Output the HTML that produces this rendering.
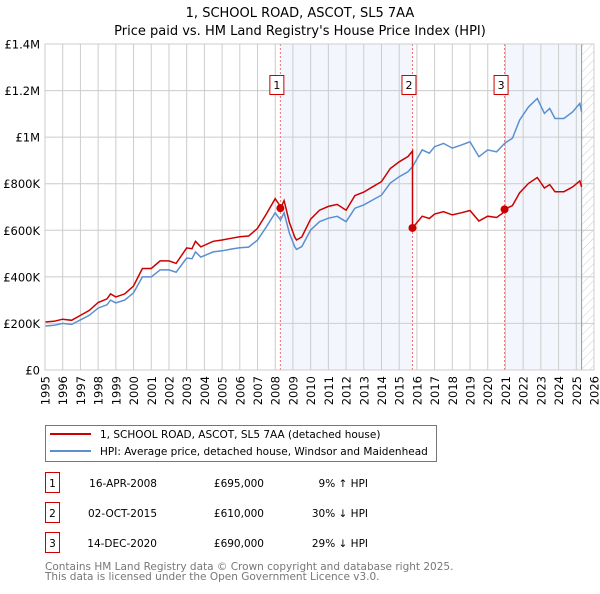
<!DOCTYPE html>
<html><head><meta charset="utf-8"><style>
body{margin:0;background:#fff;font-family:"DejaVu Sans","Liberation Sans",sans-serif;}
svg text{font-family:"DejaVu Sans","Liberation Sans",sans-serif;}
</style></head><body>
<svg id="chart" width="600" height="590" viewBox="0 0 600 590" xmlns="http://www.w3.org/2000/svg">
<defs><pattern id="hatch" width="6" height="6" patternUnits="userSpaceOnUse" patternTransform="rotate(45)"><line x1="0" y1="0" x2="0" y2="6" stroke="#ccc" stroke-width="1"/></pattern></defs>
<text x="300" y="17" text-anchor="middle" font-size="13">1, SCHOOL ROAD, ASCOT, SL5 7AA</text>
<text x="300" y="35" text-anchor="middle" font-size="13">Price paid vs. HM Land Registry's House Price Index (HPI)</text>
<g id="plot"></g>
<g>
<rect x="45.5" y="425.5" width="391" height="36" fill="#fff" stroke="#777"/>
<line x1="50" y1="434" x2="91" y2="434" stroke="#cc0000" stroke-width="2"/>
<text x="100" y="438" font-size="10.5">1, SCHOOL ROAD, ASCOT, SL5 7AA (detached house)</text>
<line x1="50" y1="451" x2="91" y2="451" stroke="#5b8fd0" stroke-width="2"/>
<text x="100" y="455" font-size="10.5">HPI: Average price, detached house, Windsor and Maidenhead</text>
</g>
<g id="table" font-size="10.5"></g>
<text x="45" y="570" font-size="10.5" fill="#777">Contains HM Land Registry data © Crown copyright and database right 2025.</text>
<text x="45" y="580" font-size="10.5" fill="#777">This data is licensed under the Open Government Licence v3.0.</text>
</svg>
<script>
const hpiYears=[1995,1995.5,1996,1996.5,1997,1997.5,1998,1998.5,1998.7,1999,1999.5,2000,2000.5,2001,2001.5,2002,2002.4,2003,2003.3,2003.5,2003.8,2004.5,2005,2005.5,2006,2006.5,2007,2007.5,2008,2008.3,2008.5,2008.8,2009.1,2009.2,2009.5,2010,2010.5,2011,2011.5,2012,2012.5,2013,2013.5,2014,2014.5,2015,2015.5,2015.75,2016.3,2016.7,2017,2017.5,2018,2018.5,2019,2019.5,2020,2020.5,2020.95,2021.4,2021.8,2022.3,2022.8,2023.2,2023.5,2023.8,2024.3,2024.8,2025.2,2025.3];
const hpiValues=[189,192,200,196,215,235,266,280,300,288,300,331,400,400,430,430,420,481,478,507,485,507,512,519,525,528,558,615,675,644,675,588,530,518,530,601,637,652,660,637,695,709,730,751,803,830,851,873,945,931,959,973,953,966,980,916,945,937,973,996,1073,1130,1166,1102,1123,1080,1080,1109,1145,1109];
const saleYears=[2008.29,2015.75,2020.95];
const salePrices=[695,610,690];
const saleDates=["16-APR-2008","02-OCT-2015","14-DEC-2020"];
const saleLabels=["£695,000","£610,000","£690,000"];
const saleHpi=["9% ↑ HPI","30% ↓ HPI","29% ↓ HPI"];
const yTicks=[0,200,400,600,800,1000,1200,1400];
const yTickLabels=["£0","£200K","£400K","£600K","£800K","£1M","£1.2M","£1.4M"];
const preRatio=1.09;

const X0=45,X1=594,Y0=370,Y1=44,ymin=1995,ymax=2026;
const xs=y=>X0+(y-ymin)/(ymax-ymin)*(X1-X0);
const ys=v=>Y0-v/1400*(Y0-Y1);
const NS="http://www.w3.org/2000/svg";
const plot=document.getElementById('plot');
function mk(tag,attrs,parent){const e=document.createElementNS(NS,tag);for(const k in attrs)e.setAttribute(k,attrs[k]);(parent||plot).appendChild(e);return e;}
function interp(y){for(let i=0;i<hpiYears.length-1;i++){if(y>=hpiYears[i]&&y<=hpiYears[i+1]){const t=(y-hpiYears[i])/(hpiYears[i+1]-hpiYears[i]);return hpiValues[i]+t*(hpiValues[i+1]-hpiValues[i]);}}return hpiValues[hpiValues.length-1];}
const lastYear=hpiYears[hpiYears.length-1];
let sh=mk('rect',{x:xs(saleYears[0]),y:Y1,width:xs(saleYears[1])-xs(saleYears[0]),height:Y0-Y1,fill:'#eef3fc',opacity:0.7});


let sh2=mk('rect',{x:xs(saleYears[2]),y:Y1,width:xs(lastYear)-xs(saleYears[2]),height:Y0-Y1,fill:'#eef3fc',opacity:0.7});


let ht=mk('rect',{x:xs(lastYear),y:Y1,width:X1-xs(lastYear),height:Y0-Y1,fill:'url(#hatch)'});


for(let yr=ymin;yr<=ymax;yr++){
 const g=mk('line',{x1:xs(yr),x2:xs(yr),y1:Y1,y2:Y0,stroke:'#ccc','stroke-width':1});
 
 
 const x=xs(yr);
 const t=mk('text',{x:0,y:0,transform:`translate(${x+4.5},${Y0+6}) rotate(-90)`,'text-anchor':'end','font-size':'11.5'});
 t.textContent=yr;
 
 
}
yTicks.forEach((v,i)=>{
 const g=mk('line',{x1:X0,x2:X1,y1:ys(v),y2:ys(v),stroke:'#ccc','stroke-width':1});
 
 
 const t=mk('text',{x:40,y:ys(v)+4.5,'text-anchor':'end','font-size':'11.5'});
 t.textContent=yTickLabels[i];
 
 
});
const lastLine=mk('line',{x1:xs(lastYear),x2:xs(lastYear),y1:Y1,y2:Y0,stroke:'#999','stroke-width':1});


saleYears.forEach((sy,i)=>{
 const l=mk('line',{x1:xs(sy),x2:xs(sy),y1:Y1,y2:Y0,stroke:'#f07070','stroke-width':1,'stroke-dasharray':'2,2'});
 
 
 const r=mk('rect',{x:xs(sy)-10.5,y:75.5,width:14,height:19,fill:'#fff',stroke:'#cc0000'});
 
 
 const t=mk('text',{x:xs(sy)-3.5,y:89,'text-anchor':'middle','font-size':'11'});
 t.textContent=i+1;
 
 
});
let hp=hpiYears.map((y,i)=>`${xs(y).toFixed(1)},${ys(hpiValues[i]).toFixed(1)}`).join(' ');
const hl=mk('polyline',{points:hp,fill:'none',stroke:'#5b8fd0','stroke-width':1.5});


function ratioAt(y){let r=preRatio;for(let i=0;i<saleYears.length;i++){if(y>=saleYears[i])r=salePrices[i]/interp(saleYears[i]);}return r;}
let pts=[];
let allYears=hpiYears.concat(saleYears).sort((a,b)=>a-b);
allYears.forEach(y=>{
 saleYears.forEach((sy,i)=>{if(Math.abs(y-sy)<1e-9){const prev=(i===0?preRatio:salePrices[i-1]/interp(saleYears[i-1]));pts.push([y,interp(y)*prev]);}});
 pts.push([y,interp(y)*ratioAt(y)]);
});
const pl=mk('polyline',{points:pts.map(p=>`${xs(p[0]).toFixed(1)},${ys(p[1]).toFixed(1)}`).join(' '),fill:'none',stroke:'#cc0000','stroke-width':1.5});


saleYears.forEach((sy,i)=>{
 const c=mk('circle',{cx:xs(sy),cy:ys(salePrices[i]),r:4,fill:'#cc0000'});
 
 
});
mk('rect',{x:X0,y:Y1,width:X1-X0,height:Y0-Y1,fill:'none',stroke:'#ccc'});
const tb=document.getElementById('table');
saleYears.forEach((sy,i)=>{
 const cy=483+i*30;
 const r=mk('rect',{x:45.5,y:cy-10.5,width:14,height:20,fill:'#fff',stroke:'#cc0000'},tb);
 
 
 const cells=[[52.5,String(i+1),'middle'],[157,saleDates[i],'end'],[264,saleLabels[i],'end'],[368,saleHpi[i],'end']];
 cells.forEach((c,j)=>{
  const t=mk('text',{x:c[0],y:cy+4,'text-anchor':c[2]},tb);
  t.textContent=c[1];
  
  
 });
});
</script>
</body></html>
